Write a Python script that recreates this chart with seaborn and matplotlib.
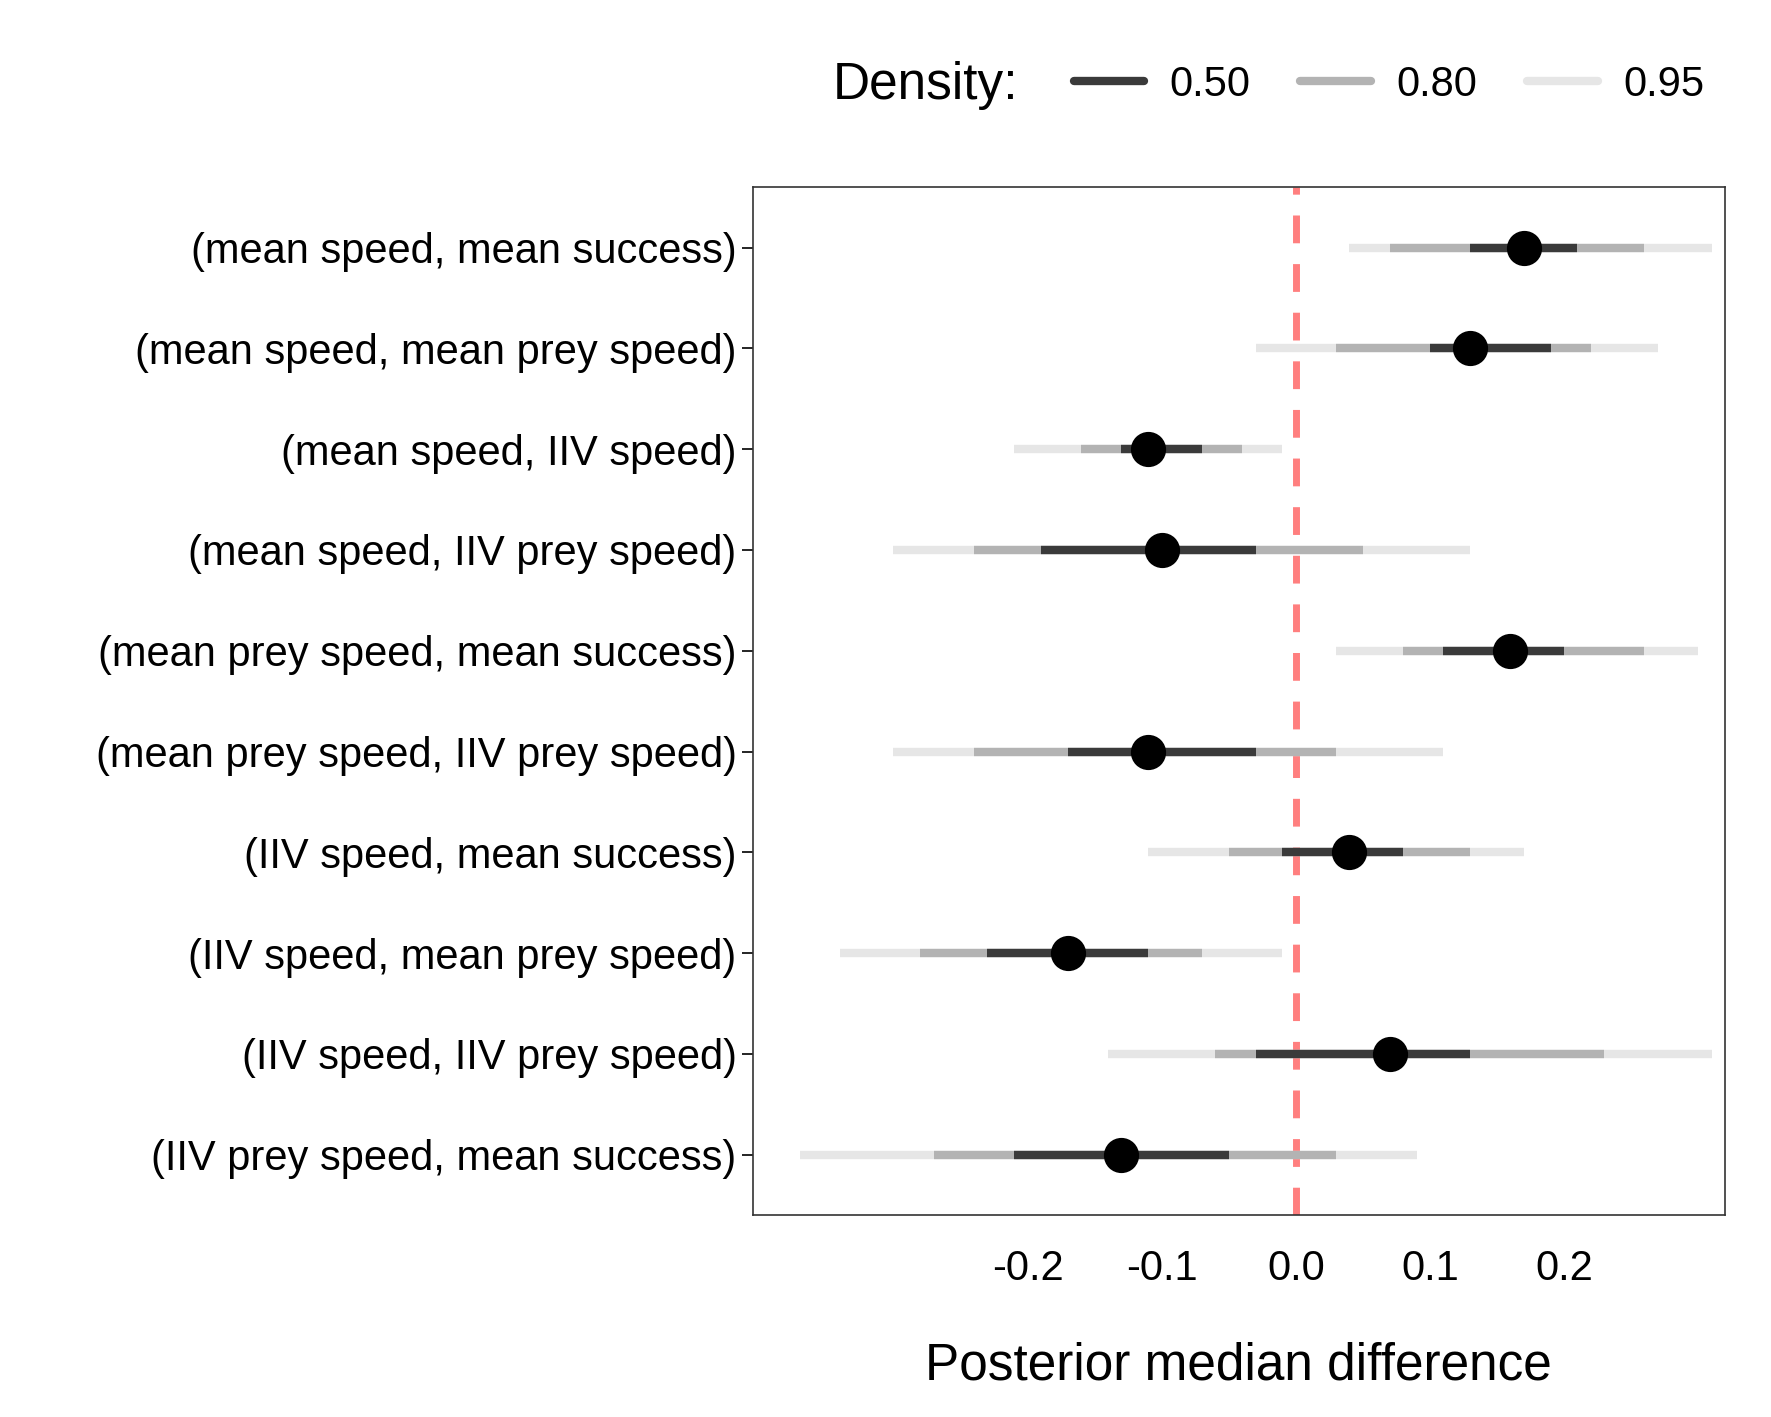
import matplotlib
matplotlib.use("Agg")
import matplotlib.pyplot as plt
import seaborn as sns
import pandas as pd
from matplotlib.lines import Line2D

labels = ["(mean speed, mean success)", "(mean speed, mean prey speed)", "(mean speed, IIV speed)",
          "(mean speed, IIV prey speed)", "(mean prey speed, mean success)", "(mean prey speed, IIV prey speed)",
          "(IIV speed, mean success)", "(IIV speed, mean prey speed)", "(IIV speed, IIV prey speed)",
          "(IIV prey speed, mean success)"]
median = [0.17, 0.13, -0.11, -0.10, 0.16, -0.11, 0.04, -0.17, 0.07, -0.13]
lo50 = [0.13, 0.10, -0.13, -0.19, 0.11, -0.17, -0.01, -0.23, -0.03, -0.21]
hi50 = [0.21, 0.19, -0.07, -0.03, 0.20, -0.03, 0.08, -0.11, 0.13, -0.05]
lo80 = [0.07, 0.03, -0.16, -0.24, 0.08, -0.24, -0.05, -0.28, -0.06, -0.27]
hi80 = [0.26, 0.22, -0.04, 0.05, 0.26, 0.03, 0.13, -0.07, 0.23, 0.03]
lo95 = [0.04, -0.03, -0.21, -0.30, 0.03, -0.30, -0.11, -0.34, -0.14, -0.37]
hi95 = [0.31, 0.27, -0.01, 0.13, 0.30, 0.11, 0.17, -0.01, 0.31, 0.09]

sns.set_theme(style="ticks")
plt.rcParams['font.family'] = ['Liberation Sans', 'DejaVu Sans']
plt.rcParams['text.color'] = 'black'
plt.rcParams['xtick.color'] = 'black'
plt.rcParams['ytick.color'] = 'black'
plt.rcParams['axes.labelcolor'] = 'black'
fig = plt.figure(figsize=(17.71, 14.17), dpi=100)
ax = fig.add_axes([0.425, 0.1424, 0.549, 0.7256])

df = pd.DataFrame({"label": labels, "median": median, "y": range(len(labels))})
cols = {"0.95": "#E6E6E6", "0.80": "#B3B3B3", "0.50": "#3A3A3A"}
for key, lo, hi in [("0.95", lo95, hi95), ("0.80", lo80, hi80), ("0.50", lo50, hi50)]:
    ax.hlines(df["y"], lo, hi, color=cols[key], lw=6, zorder=2)
ax.axvline(0, color="#FF7F7F", ls=(0, (4, 3)), lw=5, zorder=1)
sns.scatterplot(data=df, x="median", y="y", color="black", s=550, ax=ax, zorder=4, edgecolor="black", legend=False)

ax.set_yticks(range(len(labels)))
ax.set_yticklabels(labels, fontsize=30)
ax.set_ylim(len(labels) - 0.4, -0.6)
ax.set_xlim(-0.405, 0.32)
ax.set_xticks([-0.2, -0.1, 0.0, 0.1, 0.2])
ax.set_xticklabels(["-0.2", "-0.1", "0.0", "0.1", "0.2"], fontsize=30)
ax.tick_params(axis="x", length=0, pad=24)
ax.tick_params(axis="y", length=8, width=1.2)
ax.set_xlabel("Posterior median difference", fontsize=37, labelpad=38)
ax.set_ylabel("")
for s in ax.spines.values():
    s.set_color("#333333"); s.set_linewidth(1.2)

handles = [Line2D([0], [0], color=cols[k], lw=6) for k in ["0.50", "0.80", "0.95"]]
fig.text(0.47, 0.94, "Density:", fontsize=37, va="center")
fig.legend(handles, ["0.50", "0.80", "0.95"], loc="center left", bbox_to_anchor=(0.585, 0.94),
           ncol=3, frameon=False, fontsize=30, handlelength=1.7, handletextpad=0.6, columnspacing=1.2)
fig.savefig("out.png", dpi=100, facecolor="white")
